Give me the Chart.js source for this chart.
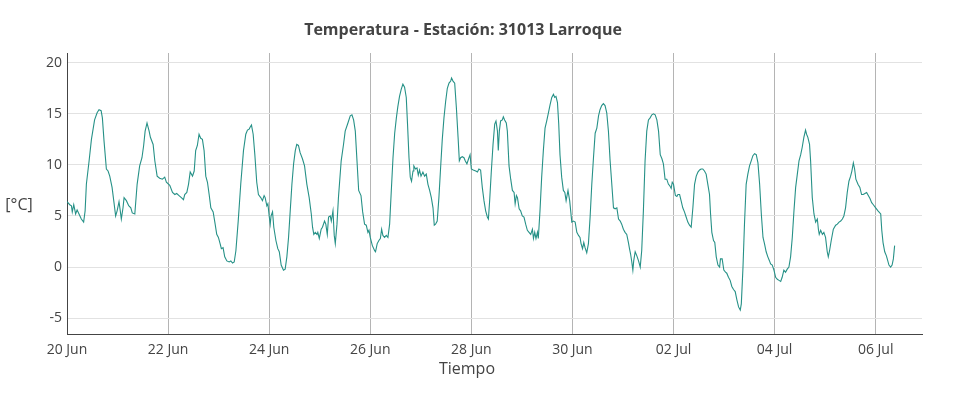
<!DOCTYPE html>
<html>
<head>
<meta charset="utf-8">
<script src="https://cdn.jsdelivr.net/npm/chart.js@4.4.1/dist/chart.umd.min.js"></script>
<style>
  html, body { margin: 0; padding: 0; background: #fff; }
  canvas { display: block; }
</style>
</head>
<body>
<canvas id="temp" width="958" height="409"></canvas>
<script>
// horas desde 20 Jun 00:00
const horas = [
  0, 1.3, 2.1, 2.5, 3.2, 4.1, 4.8, 5.7, 6.8, 7.9, 8.6, 9.2, 10.5, 11.6, 13.1, 14.3, 15.2, 16.2, 16.8, 17.6, 18.7, 19.5, 20.3, 21.4, 22.2, 23.1, 23.8,
  24.7, 25.3, 25.8, 26.6, 27.1, 28.2, 29.3, 30.3, 31.0, 32.2, 33.3, 34.5, 35.6, 36.4, 37.1, 38.0, 39.0, 39.6, 40.9, 41.7, 42.8, 44.0, 45.3, 46.4, 47.2, 48.8,
  50.1, 51.2, 52.1, 53.2, 54.3, 55.3, 55.9, 56.9, 57.7, 58.5, 59.6, 60.4, 61.1, 61.9, 62.7, 63.5, 64.3, 65.1, 65.9, 66.7, 67.5, 68.3, 69.4, 70.2, 71.1, 71.9,
  72.7, 73.3, 74.1, 74.9, 75.9, 77.0, 77.8, 78.6, 79.4, 80.2, 81.3, 82.5, 83.8, 84.9, 85.7, 86.5, 87.0, 87.6, 88.4, 89.2, 90.1, 90.9, 92.0, 92.8, 93.6,
  94.1, 94.9, 95.4, 96.0, 96.5, 96.9, 97.6, 98.2, 99.2, 100.1, 100.8, 101.7, 102.8, 103.6, 104.4, 105.2, 106.0, 106.8, 107.6, 108.4, 109.1, 109.9, 110.7,
  111.8, 112.8, 113.9, 115.0, 116.0, 116.6, 117.2, 117.9, 118.7, 119.1, 119.8, 120.7, 121.3, 122.3, 122.9, 123.6, 124.2, 125.0, 125.5, 126.3, 126.9, 127.4,
  128.2, 128.9, 130.2, 131.3, 132.1, 133.4, 134.5, 135.3, 136.1, 136.9, 137.7, 138.5, 139.6, 140.4, 141.3,
  142.1, 142.9, 143.4, 144.0, 145.0, 146.1, 146.5, 147.3, 148.1, 148.8, 149.4, 150.0, 150.8, 151.6, 152.4, 153.2, 154.0, 154.8, 155.6, 156.4, 157.1, 157.9,
  158.7, 159.5, 160.3, 161.1, 161.7, 162.4, 163.0, 163.6, 164.3, 164.7, 165.5, 166.2, 166.8, 167.4, 168.1, 169.0, 169.8, 170.6, 171.4, 172.2, 173.0, 173.8,
  174.4, 175.0, 175.8, 176.6, 177.4, 178.2, 179.0, 179.8, 180.6, 181.4, 182.2, 182.6, 183.3, 184.1, 184.9, 185.7, 186.3, 186.9, 187.7, 188.5, 189.1, 189.9,
  190.7, 191.4,
  192.0, 192.9, 194.1, 194.9, 195.6, 196.4, 197.2, 198.0, 198.8, 199.6, 200.1, 200.7, 201.5, 202.3, 203.1, 203.7, 204.4, 204.8, 205.3, 205.9, 206.7, 207.2,
  207.8, 208.6, 209.1, 209.9, 210.7, 211.5, 212.3, 212.8, 213.4, 213.9, 214.7, 215.4, 216.2, 217.0, 217.8, 218.6, 219.4, 220.2, 221.0, 221.5, 222.1, 222.7,
  223.4, 223.8, 224.6, 225.4, 226.2, 227.0, 227.8, 228.6, 229.4, 230.2, 231.0, 231.6, 232.2, 232.9, 233.5, 234.1, 234.9, 235.7, 236.4, 237.0, 237.9, 238.7,
  239.7, 240.5, 241.3, 242.1, 242.9, 243.6, 244.1, 244.8, 245.4, 246.0, 246.8, 247.6, 248.4, 249.2, 250.0, 250.8, 251.6, 252.4, 253.1, 253.9, 254.7, 255.5,
  256.3, 257.1, 257.9, 258.7, 259.5, 260.3, 261.1, 261.9, 262.7, 263.4, 264.2, 265.0, 265.8, 266.6, 267.1, 267.6, 268.2, 268.7, 269.1, 269.8, 270.6, 271.4,
  272.2, 272.9, 273.7, 274.5, 275.3, 276.1, 276.9, 277.7, 278.5, 279.3, 280.1, 280.9, 281.7, 282.5, 283.2, 284.0, 284.8, 285.6,
  286.1, 286.9, 287.4, 288.0, 288.9, 289.6, 290.1, 290.9, 291.6, 292.4, 293.2, 294.0, 294.8, 295.6, 296.4, 297.2, 298.0, 298.8, 299.6, 300.4, 301.1, 301.9,
  302.7, 303.5, 304.3, 305.1, 305.6, 306.2, 307.0, 307.6, 308.3, 309.1, 309.9, 310.3, 311.1, 311.9, 312.7, 313.3, 314.1, 314.9, 315.7, 316.5, 317.3, 318.1,
  318.9, 319.7, 320.2, 321.0, 321.7, 322.5, 323.3, 324.1, 324.9, 325.7, 326.5, 327.3, 328.1, 328.9, 329.7, 330.5, 331.2, 332.0, 332.8, 333.6,
  334.1, 334.9, 335.7, 336.5, 337.3, 338.1, 338.9, 339.6, 340.4, 341.2, 342.0, 342.8, 343.6, 344.4, 345.2, 346.0, 346.8, 347.6, 348.4, 349.1, 349.9, 350.7,
  351.2, 351.8, 352.6, 353.1, 353.9, 354.7, 355.5, 356.3, 356.8, 357.2, 357.9, 358.7, 359.4, 360.2, 361.0, 361.5, 362.1, 362.9, 363.9, 365.0, 365.8, 366.6,
  367.4, 368.2, 368.9, 369.7, 370.5, 371.3, 372.1, 372.7, 373.4, 374.0, 374.6, 375.6, 376.5, 377.3, 378.1, 378.9, 379.7, 380.5, 381.3, 382.1, 382.9, 384.0,
  385.1, 386.4, 386.9, 387.5, 388.3, 389.1, 389.5, 390.3, 391.1, 391.8, 392.4, 393.0
];

// temperatura [°C]
const temperatura = [
  6.4, 6.1, 6.0, 5.4, 6.1, 5.2, 5.6, 5.2, 4.7, 4.4, 5.5, 8.1, 10.4, 12.5, 14.4, 15.1, 15.4, 15.3, 14.6, 12.3, 9.6, 9.4, 8.9, 7.8, 6.5, 5.0, 5.5,
  6.4, 5.5, 4.7, 5.8, 6.8, 6.5, 6.0, 5.8, 5.3, 5.2, 8.1, 9.9, 10.7, 11.9, 13.3, 14.1, 13.3, 12.7, 12.0, 10.4, 8.9, 8.7, 8.6, 8.8, 8.3, 8.0,
  7.3, 7.1, 7.2, 7.0, 6.8, 6.6, 7.1, 7.3, 8.1, 9.3, 8.9, 9.4, 11.4, 11.9, 13.0, 12.6, 12.5, 11.4, 8.9, 8.3, 7.1, 5.8, 5.4, 4.4, 3.2, 2.9,
  2.3, 1.8, 1.9, 1.0, 0.6, 0.5, 0.6, 0.4, 0.5, 1.6, 4.5, 8.1, 11.4, 13.0, 13.4, 13.5, 13.7, 13.9, 13.0, 11.0, 8.3, 7.1, 6.8, 6.5, 7.0,
  6.8, 6.0, 6.2, 5.0, 4.2, 5.0, 5.4, 3.9, 2.6, 1.8, 1.5, 0.2, -0.3, -0.2, 1.0, 2.9, 5.5, 8.1, 10.1, 11.4, 12.0, 11.9, 11.2,
  10.6, 9.9, 8.1, 6.8, 5.2, 3.9, 3.2, 3.4, 3.2, 3.4, 2.8, 3.7, 3.9, 4.5, 4.2, 3.2, 4.9, 5.0, 4.5, 5.5, 3.1, 2.3,
  4.2, 6.8, 10.4, 12.0, 13.3, 14.1, 14.8, 14.9, 14.4, 13.3, 10.4, 7.5, 7.0, 5.4, 4.2,
  4.1, 3.4, 3.6, 2.9, 2.1, 1.6, 1.5, 2.3, 2.6, 2.8, 3.7, 3.1, 2.9, 3.1, 2.9, 4.2, 7.5, 10.7, 13.1, 14.6, 15.7, 16.7,
  17.4, 17.9, 17.6, 16.6, 14.0, 10.7, 8.8, 8.4, 9.4, 9.9, 9.6, 9.7, 9.0, 9.5, 8.9, 9.3, 8.9, 9.1, 8.1, 7.5, 6.8, 5.8,
  4.1, 4.2, 4.5, 6.8, 9.7, 12.5, 14.6, 16.2, 17.5, 18.0, 18.2, 18.5, 18.2, 18.0, 15.6, 12.7, 10.4, 10.7, 10.8, 10.7, 10.4, 10.1,
  10.6, 11.0,
  9.6, 9.5, 9.4, 9.3, 9.6, 9.5, 7.8, 6.5, 5.5, 4.9, 4.7, 6.5, 9.4, 12.0, 14.0, 14.3, 13.3, 11.4, 13.3, 14.3, 14.4, 14.7,
  14.4, 14.1, 13.3, 9.9, 8.6, 7.5, 7.3, 6.2, 7.0, 6.8, 5.7, 5.5, 5.0, 4.9, 4.2, 3.6, 3.4, 3.2, 3.7, 2.8, 3.4, 2.8,
  3.4, 2.8, 5.5, 8.8, 11.4, 13.6, 14.3, 15.1, 15.9, 16.6, 16.9, 16.6, 16.7, 16.1, 14.0, 11.0, 8.8, 7.5, 7.3, 6.5, 7.5, 6.5,
  4.4, 4.5, 4.4, 3.4, 3.1, 2.9, 2.3, 1.8, 2.4, 1.9, 1.4, 2.3, 4.9, 8.1, 10.7, 13.1, 13.6, 14.8, 15.4, 15.8, 16.0, 15.8,
  15.1, 13.3, 10.4, 8.1, 5.8, 5.7, 5.8, 4.7, 4.5, 4.2, 3.7, 3.4, 3.2, 2.4, 1.8, 1.3, 0.5, -0.3, 0.6, 1.5, 1.1, 0.6,
  0.0, 1.6, 5.5, 10.4, 13.3, 14.4, 14.6, 14.9, 15.0, 14.9, 14.4, 13.3, 11.0, 10.6, 10.1, 8.6, 8.6, 8.1,
  8.0, 7.7, 8.3, 8.1, 7.0, 6.9, 7.1, 7.1, 6.5, 5.8, 5.4, 4.9, 4.4, 4.1, 3.9, 5.8, 8.1, 8.9, 9.3, 9.5, 9.6, 9.6,
  9.4, 9.1, 8.1, 7.1, 5.2, 3.4, 2.6, 2.4, 1.0, 0.2, 0.0, 0.8, 0.8, -0.3, -0.5, -0.6, -1.0, -1.3, -1.9, -2.2, -2.4, -3.2,
  -3.9, -4.2, -3.6, 0.0, 4.2, 8.1, 9.1, 9.9, 10.4, 10.9, 11.1, 11.0, 10.2, 8.1, 5.2, 2.9, 2.3, 1.5, 1.0, 0.6,
  0.3, 0.2, -0.3, -1.0, -1.2, -1.3, -1.4, -1.0, -0.3, -0.5, -0.2, 0.0, 1.0, 2.9, 5.5, 7.8, 9.1, 10.4, 11.0, 11.7, 12.7, 13.4,
  13.0, 12.7, 12.0, 10.4, 6.8, 5.2, 4.4, 4.7, 3.7, 3.2, 3.6, 3.2, 3.4, 2.9, 1.5, 1.0, 1.6, 2.6, 3.7, 4.1, 4.2, 4.4,
  4.5, 4.7, 5.0, 5.8, 7.3, 8.4, 8.9, 9.4, 10.2, 9.6, 8.6, 8.1, 7.8, 7.1, 7.1, 7.2, 7.3, 7.0, 6.7, 6.3, 6.1, 5.8,
  5.5, 5.2, 3.6, 2.4, 1.5, 1.1, 0.8, 0.2, 0.0, 0.2, 0.8, 2.1
];

const xTicks = [0, 48, 96, 144, 192, 240, 288, 336, 384];
const xTickLabels = ["20 Jun", "22 Jun", "24 Jun", "26 Jun", "28 Jun", "30 Jun", "02 Jul", "04 Jul", "06 Jul"];
const yTicks = [-5, 0, 5, 10, 15, 20];

const puntos = horas.map((h, i) => ({ x: h, y: temperatura[i] }));

// textos sueltos (titulo, ejes)
const textos = {
  id: "textos",
  afterDraw(chart) {
    const c = chart.ctx;
    c.save();
    c.fillStyle = "#444";
    c.textAlign = "center";
    c.textBaseline = "middle";
    c.font = "bold 16px 'Open Sans'";
    c.fillText("Temperatura - Estación: 31013 Larroque", 463, 30);
    c.font = "16px 'Open Sans'";
    c.fillText("Tiempo", 467, 369);
    c.fillText("[°C]", 19, 205);
    c.restore();
  },
};

const ctx = document.getElementById("temp").getContext("2d");
const chart = new Chart(ctx, {
  type: "line",
  data: {
    datasets: [
      {
        data: puntos,
        borderColor: "rgb(38, 145, 135)",
        borderWidth: 1.1,
        pointRadius: 0,
        tension: 0,
        fill: false,
      },
    ],
  },
  options: {
    responsive: false,
    animation: false,
    layout: { padding: { top: 53, right: 36, left: 0, bottom: 0 } },
    plugins: { legend: { display: false }, tooltip: { enabled: false }, title: { display: false } },
    scales: {
      x: {
        type: "linear",
        min: 0,
        max: 406,
        afterBuildTicks: (s) => { s.ticks = xTicks.map((v) => ({ value: v })); },
        afterFit: (s) => { s.height = 75; },
        ticks: {
          callback: (v, i) => xTickLabels[i],
          color: "#444",
          font: { family: "'Open Sans'", size: 14 },
          padding: 8,
          maxRotation: 0,
          autoSkip: false,
        },
        grid: { color: "#b4b4b4", drawTicks: false },
        border: { display: true, color: "#444", width: 1 },
      },
      y: {
        min: -6.55,
        max: 20.95,
        afterBuildTicks: (s) => { s.ticks = yTicks.map((v) => ({ value: v })); },
        afterFit: (s) => { s.width = 67; },
        ticks: {
          color: "#444",
          font: { family: "'Open Sans'", size: 14 },
          padding: 5,
        },
        grid: { color: "#e2e2e2", drawTicks: false },
        border: { display: true, color: "#444", width: 1 },
      },
    },
  },
  plugins: [textos],
});
</script>
</body>
</html>
